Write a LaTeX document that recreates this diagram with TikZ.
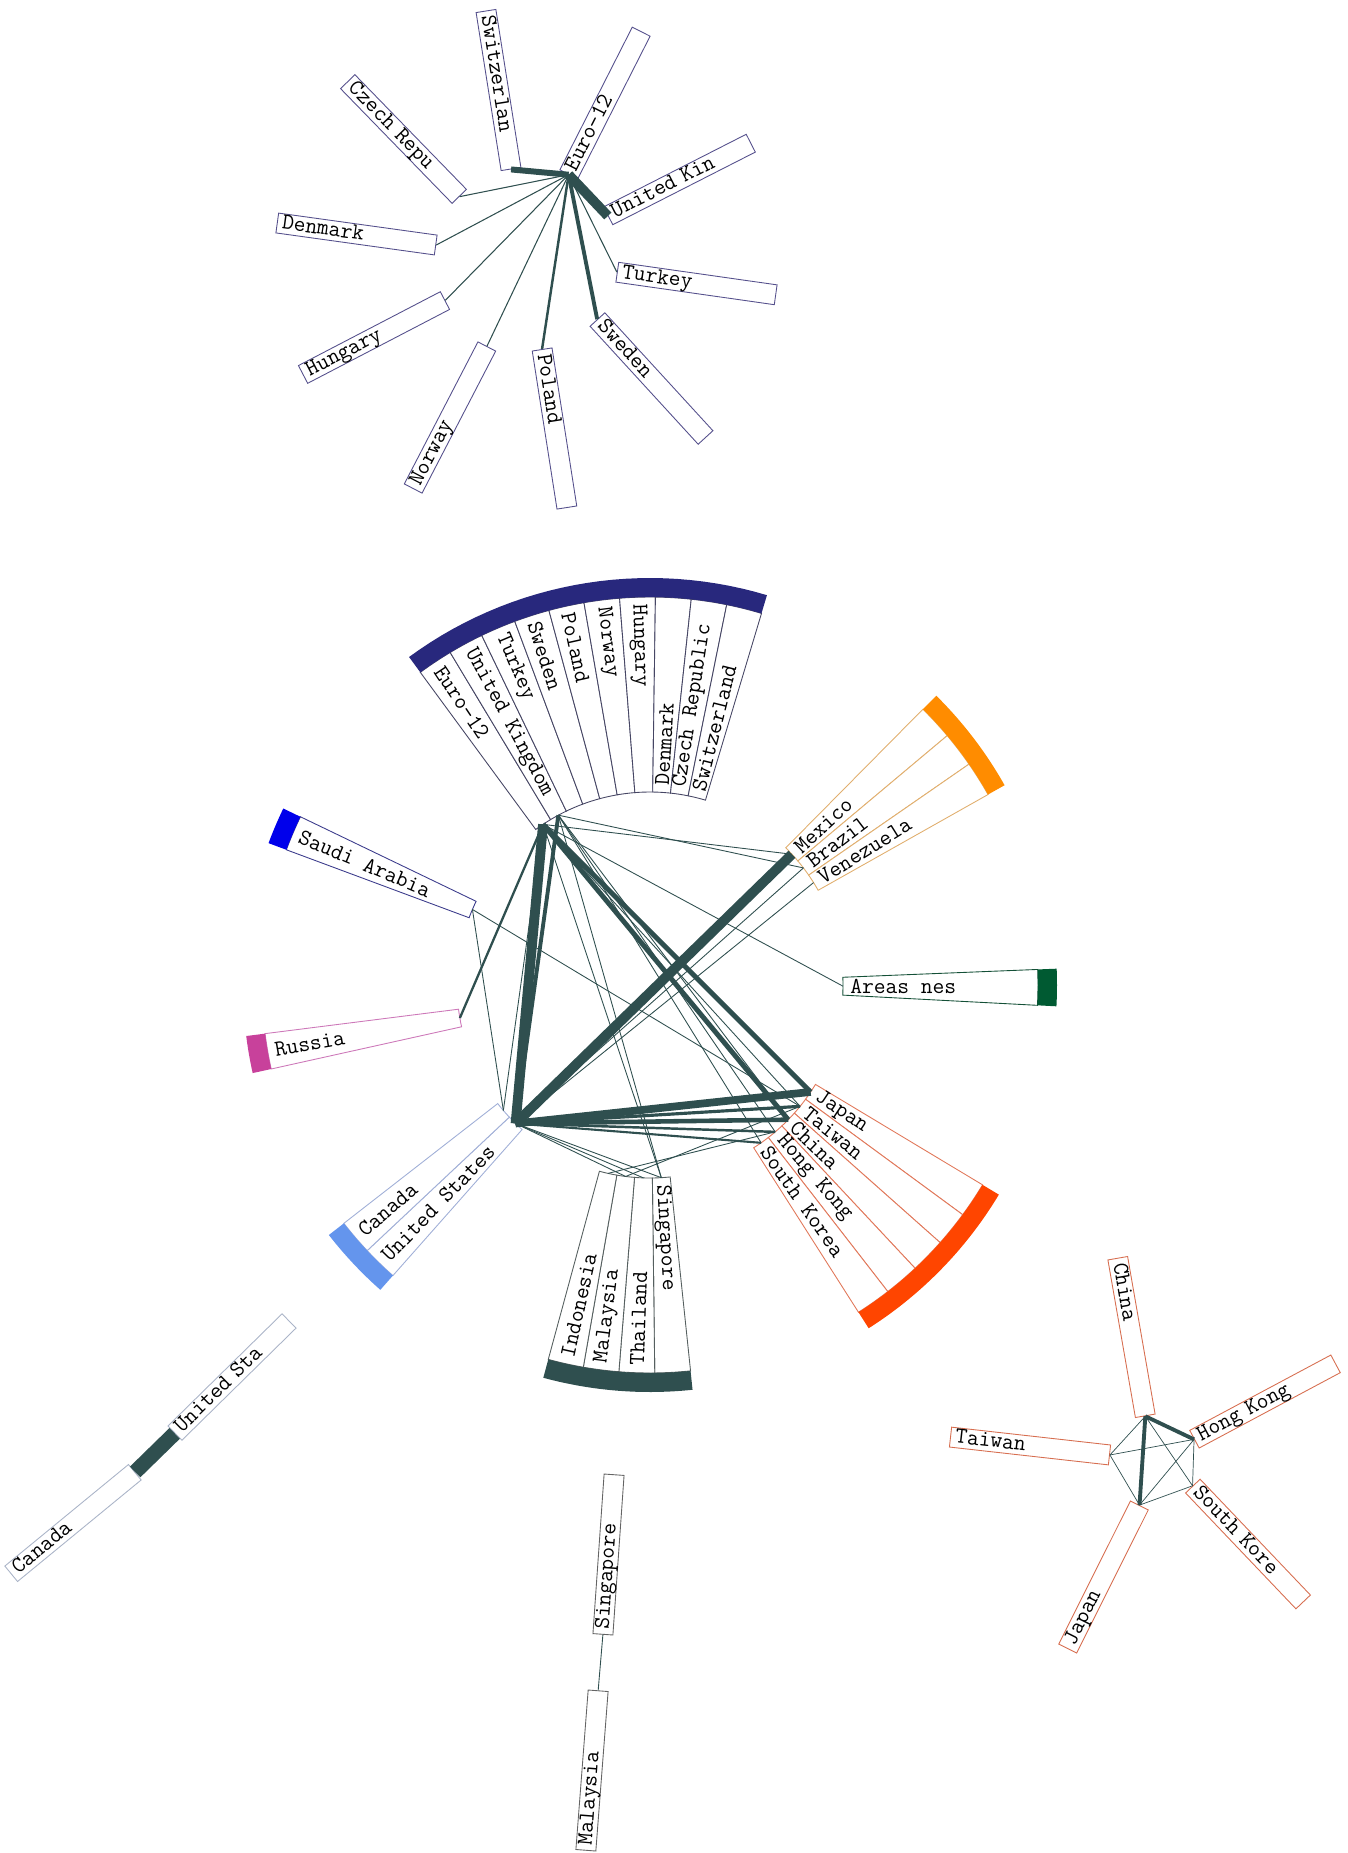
\documentclass[tikz,border=0pt]{standalone}
\usepackage{xcolor}
\usepackage{tikz}
\usetikzlibrary{calc}

\definecolor{slate}{RGB}{47,79,79}
\definecolor{topbd}{RGB}{85,80,140}
\definecolor{eubd}{RGB}{70,70,100}
\definecolor{euband}{RGB}{40,40,125}
\definecolor{mxbd}{RGB}{225,175,110}
\definecolor{mxband}{RGB}{255,140,0}
\definecolor{anbd}{RGB}{20,80,55}
\definecolor{anband}{RGB}{0,90,50}
\definecolor{asbd}{RGB}{225,120,90}
\definecolor{asband}{RGB}{255,69,0}
\definecolor{sgbd}{RGB}{85,95,95}
\definecolor{usbd}{RGB}{160,175,215}
\definecolor{usband}{RGB}{100,149,237}
\definecolor{rubd}{RGB}{205,120,185}
\definecolor{ruband}{RGB}{200,65,155}
\definecolor{sabd}{RGB}{60,60,140}
\definecolor{saband}{RGB}{0,0,235}
\definecolor{brbd}{RGB}{215,110,80}
\definecolor{blbd}{RGB}{170,180,200}
\definecolor{bmbd}{RGB}{100,100,100}

\newcommand{\lblfont}{\ttfamily\fontsize{13}{15}\selectfont}
\newcommand{\cx}{650}
\newcommand{\cy}{985}
\newcommand{\rin}{193}
\newcommand{\rout}{388}
\newcommand{\rband}{407}

\newcommand{\wband}[3]{%
  \fill[#3] plot[domain=#1:#2, samples=30] ({\cx+\rout*cos(\x)}, {\cy+\rout*sin(\x)})
    -- plot[domain=#2:#1, samples=30] ({\cx+\rband*cos(\x)}, {\cy+\rband*sin(\x)}) -- cycle;}

\newcommand{\wslot}[5]{%
  \pgfmathsetmacro{\wa}{#2}%
  \pgfmathsetmacro{\wb}{#3}%
  \pgfmathsetmacro{\amid}{(\wa+\wb)/2}%
  \draw[draw=#5, line width=0.5pt, fill=white]
    plot[domain=\wa:\wb, samples=8] ({\cx+\rin*cos(\x)}, {\cy+\rin*sin(\x)})
    -- plot[domain=\wb:\wa, samples=8] ({\cx+\rout*cos(\x)}, {\cy+\rout*sin(\x)}) -- cycle;
  \coordinate (#1) at ({\cx+\rin*cos(\amid)}, {\cy+\rin*sin(\amid)});
  \pgfmathsetmacro{\dirc}{cos(\amid)}%
  \ifdim\dirc pt<0pt
    \node[wlbl, rotate={180-(\amid)}] (#1-t) at ({\cx+(\rout-7)*cos(\amid)}, {\cy+(\rout-7)*sin(\amid)}) {#4};
  \else
    \node[wlbl, rotate={-(\amid)}] (#1-t) at ({\cx+(\rin+7)*cos(\amid)}, {\cy+(\rin+7)*sin(\amid)}) {#4};
  \fi}

\begin{document}
\begin{tikzpicture}[x=0.02cm, y=-0.02cm,
    cbox/.style={draw=#1, line width=0.5pt, fill=white, font=\lblfont, inner xsep=0.1cm, inner ysep=0pt,
      text width=3.0cm, align=left, minimum height=0.4cm, text height=8.5pt, text depth=2.5pt},
    wlbl/.style={font=\lblfont, anchor=west, inner sep=0pt},
    lk/.style={draw=slate, line width=#1},
    lk/.default=0.5pt]
\useasboundingbox (0,0) rectangle (1348,1853);

% Europe star
\node[cbox=topbd, rotate=63.1] (teu) at (605,103) {Euro-12};
\node[cbox=topbd, rotate=-81.0] (tch) at (498.5,90) {Switzerlan};
\node[cbox=topbd, rotate=27.0] (tuk) at (679.5,179.5) {United Kin};
\node[cbox=topbd, rotate=-8.1] (ttr) at (696.5,283.5) {Turkey};
\node[cbox=topbd, rotate=-47.5] (tse) at (651.5,378.5) {Sweden};
\node[cbox=topbd, rotate=-81.1] (tpl) at (554.5,428.5) {Poland};
\node[cbox=topbd, rotate=62.6] (tno) at (450,417.5) {Norway};
\node[cbox=topbd, rotate=27.5] (thu) at (374,337.5) {Hungary};
\node[cbox=topbd, rotate=-7.9] (tdk) at (356.5,234) {Denmark};
\node[cbox=topbd, rotate=-45.8] (tcz) at (403.5,139) {Czech Repu};
\draw[lk=5.6pt] (teu.west) -- (tuk.west);
\draw[lk=3.4pt] (teu.west) -- (tch.east);
\draw[lk=2.2pt] (teu.west) -- (tse.west);
\draw[lk=1.4pt] (teu.west) -- (tpl.west);
\foreach \q in {ttr.west, tno.east, thu.east, tdk.east, tcz.east}
  \draw[lk=0.6pt] (teu.west) -- (\q);

% world wheel
\foreach \nm/\lab [count=\i from 0] in {eu/Euro-12, uk/United Kingdom, tr/Turkey, se/Sweden, pl/Poland,
    no/Norway, hu/Hungary, dk/Denmark, cz/Czech Republic, ch/Switzerland}
  {\wslot{\nm}{-126.3+5.3*\i}{-121+5.3*\i}{\lab}{eubd}}
\wband{-126.3}{-73.3}{euband}
\foreach \nm/\lab [count=\i from 0] in {mx/Mexico, br/Brazil, ve/Venezuela}
  {\wslot{\nm}{-45.3+5.3*\i}{-40+5.3*\i}{\lab}{mxbd}}
\wband{-45.3}{-29.4}{mxband}
\wslot{an}{-2.3}{3.0}{Areas nes}{anbd}
\wband{-2.3}{3.0}{anband}
\foreach \nm/\lab [count=\i from 0] in {jp/Japan, tw/Taiwan, cn/China, hk/Hong Kong, kr/South Korea}
  {\wslot{\nm}{31+5.3*\i}{36.3+5.3*\i}{\lab}{asbd}}
\wband{31}{57.5}{asband}
\foreach \nm/\lab [count=\i from 0] in {sg/Singapore, th/Thailand, my/Malaysia, id/Indonesia}
  {\wslot{\nm}{84+5.3*\i}{89.3+5.3*\i}{\lab}{sgbd}}
\wband{84}{105.2}{slate}
\foreach \nm/\lab [count=\i from 0] in {us/United States, ca/Canada}
  {\wslot{\nm}{131.5+5.3*\i}{136.8+5.3*\i}{\lab}{usbd}}
\wband{131.5}{142.1}{usband}
\wslot{ru}{167.5}{172.8}{Russia}{rubd}
\wband{167.5}{172.8}{ruband}
\wslot{sa}{-159.6}{-154.3}{Saudi Arabia}{sabd}
\wband{-159.6}{-154.3}{saband}

\foreach \p/\q in {eu/mx, uk/br, eu/an, eu/sg, uk/sg, eu/tw, uk/hk, uk/kr, uk/cn, eu/ca, sa/ca, sa/tw,
    us/br, us/ve, us/sg, us/th, us/my, id/hk, my/tw}
  \draw[lk] (\p) -- (\q);
\draw[lk=1.3pt] (ru) -- (eu);
\draw[lk=1.2pt] (us) -- (kr);
\draw[lk=1.4pt] (us) -- (hk);
\draw[lk=1.8pt] (us) -- (tw);
\draw[lk=2.2pt] (uk) -- (us);
\draw[lk=2.6pt] (us) -- (cn);
\draw[lk=2.8pt] (eu) -- (cn);
\draw[lk=2.8pt] (eu) -- (jp);
\draw[lk=4.4pt] (us) -- (jp);
\draw[lk=5.6pt] (us) -- (mx);
\draw[lk=5.6pt] (eu) -- (us);

% North America pair
\node[cbox=blbd, rotate=39.4] (lca) at (73,1523) {Canada};
\node[cbox=blbd, rotate=44.5] (lus) at (232,1377) {United Sta};
\draw[lk=8.5pt] (lca.east) -- (lus.west);

% Singapore pair
\node[cbox=bmbd, rotate=86.0] (msg) at (608.5,1554.5) {Singapore};
\node[cbox=bmbd, rotate=85.6] (mmy) at (592,1770.5) {Malaysia};
\draw[lk] (msg.west) -- (mmy.east);

% East Asia star
\node[cbox=brbd, rotate=-80.1] (rcn) at (1131.5,1337) {China};
\node[cbox=brbd, rotate=28.1] (rhk) at (1265,1401.5) {Hong Kong};
\node[cbox=brbd, rotate=-6.4] (rtw) at (1030,1446) {Taiwan};
\node[cbox=brbd, rotate=-46.4] (rkr) at (1248,1544) {South Kore};
\node[cbox=brbd, rotate=63.4] (rjp) at (1103.5,1577) {Japan};
\foreach \p/\q in {rtw.east/rcn.east, rtw.east/rhk.west, rtw.east/rjp.east, rjp.east/rkr.west,
    rkr.west/rhk.west, rcn.east/rkr.west, rjp.east/rhk.west}
  \draw[lk=0.4pt] (\p) -- (\q);
\draw[lk=2.2pt] (rcn.east) -- (rjp.east);
\draw[lk=2.2pt] (rcn.east) -- (rhk.west);
\end{tikzpicture}
\end{document}
